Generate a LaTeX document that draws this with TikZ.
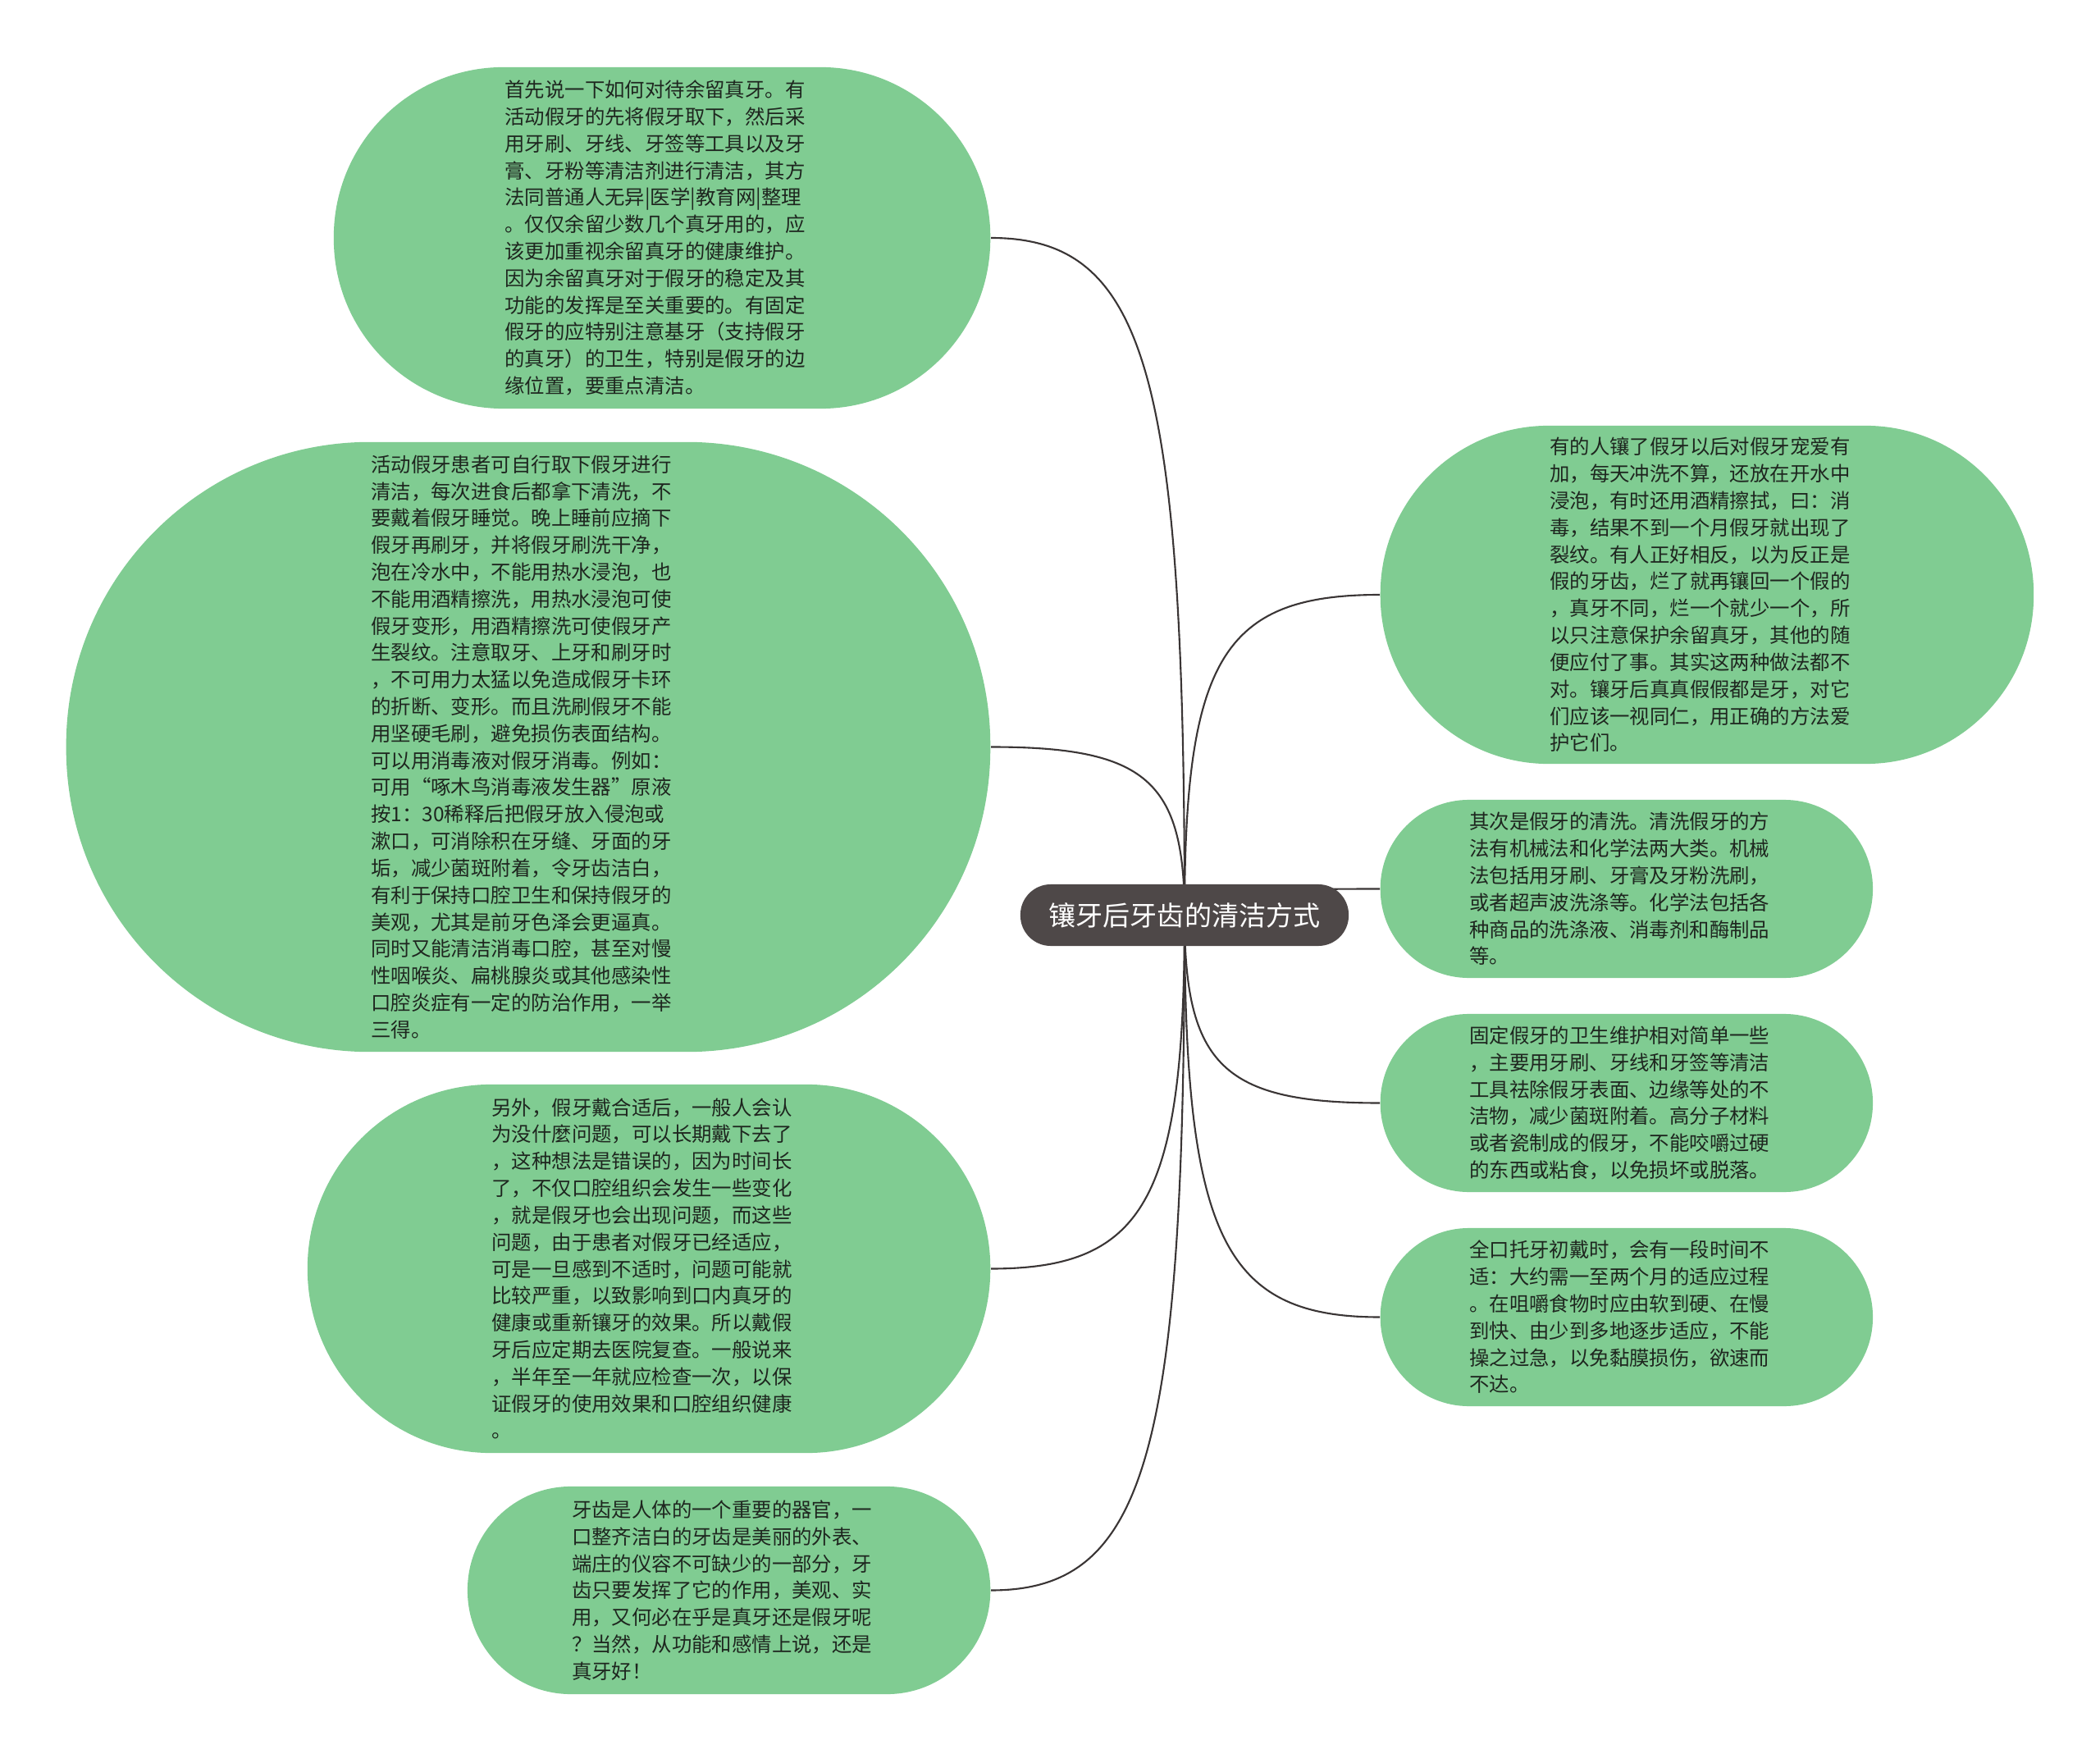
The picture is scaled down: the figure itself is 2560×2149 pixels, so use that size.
\documentclass[tikz,border=0pt]{standalone}
\usepackage{fontspec}
\setmainfont{Noto Sans CJK SC}
\usetikzlibrary{calc,backgrounds}
\definecolor{leafg}{HTML}{80CC92}
\definecolor{rootc}{HTML}{4E4848}
\definecolor{lnk}{HTML}{3A3535}
\definecolor{txt}{HTML}{1E261F}
\tikzset{
  leaf/.style={fill=leafg,text=txt,align=left,text width=3.83cm,inner sep=0pt,font=\fontsize{6.94pt}{9.33pt}\selectfont},
  rootbox/.style={fill=rootc,text=white,rounded corners=0.37cm,minimum width=4cm,minimum height=0.75cm,inner sep=0pt,font=\fontsize{9.4pt}{11pt}\selectfont},
  link/.style={draw=lnk,line width=0.6pt},
}
\begin{document}
\begin{tikzpicture}[x=0.01cm,y=-0.01cm]
\useasboundingbox (0,0) rectangle (2560,2149);
% root
\node[rootbox] (root) at (1444,1115.5) {镶牙后牙齿的清洁方式};
% left side
\node[leaf,anchor=east,minimum width=8cm,minimum height=4.16cm,rounded corners=2.07cm] (n1) at (1208,290) {首先说一下如何对待余留真牙。有\\活动假牙的先将假牙取下，然后采\\用牙刷、牙线、牙签等工具以及牙\\膏、牙粉等清洁剂进行清洁，其方\\法同普通人无异|医学|教育网|整理\\。仅仅余留少数几个真牙用的，应\\该更加重视余留真牙的健康维护。\\因为余留真牙对于假牙的稳定及其\\功能的发挥是至关重要的。有固定\\假牙的应特别注意基牙（支持假牙\\的真牙）的卫生，特别是假牙的边\\缘位置，要重点清洁。};
\node[leaf,anchor=east,minimum width=11.26cm,minimum height=7.43cm,rounded corners=3.70cm] (n2) at (1208,910.5) {活动假牙患者可自行取下假牙进行\\清洁，每次进食后都拿下清洗，不\\要戴着假牙睡觉。晚上睡前应摘下\\假牙再刷牙，并将假牙刷洗干净，\\泡在冷水中，不能用热水浸泡，也\\不能用酒精擦洗，用热水浸泡可使\\假牙变形，用酒精擦洗可使假牙产\\生裂纹。注意取牙、上牙和刷牙时\\，不可用力太猛以免造成假牙卡环\\的折断、变形。而且洗刷假牙不能\\用坚硬毛刷，避免损伤表面结构。\\可以用消毒液对假牙消毒。例如：\\可用“啄木鸟消毒液发生器”原液\\按1：30稀释后把假牙放入侵泡或\\漱口，可消除积在牙缝、牙面的牙\\垢，减少菌斑附着，令牙齿洁白，\\有利于保持口腔卫生和保持假牙的\\美观，尤其是前牙色泽会更逼真。\\同时又能清洁消毒口腔，甚至对慢\\性咽喉炎、扁桃腺炎或其他感染性\\口腔炎症有一定的防治作用，一举\\三得。};
\node[leaf,anchor=east,minimum width=8.32cm,minimum height=4.49cm,rounded corners=2.24cm] (n3) at (1208,1546.5) {另外，假牙戴合适后，一般人会认\\为没什麼问题，可以长期戴下去了\\，这种想法是错误的，因为时间长\\了，不仅口腔组织会发生一些变化\\，就是假牙也会出现问题，而这些\\问题，由于患者对假牙已经适应，\\可是一旦感到不适时，问题可能就\\比较严重，以致影响到口内真牙的\\健康或重新镶牙的效果。所以戴假\\牙后应定期去医院复查。一般说来\\，半年至一年就应检查一次，以保\\证假牙的使用效果和口腔组织健康\\。};
\node[leaf,anchor=east,minimum width=6.37cm,minimum height=2.53cm,rounded corners=1.26cm] (n4) at (1208,1938.5) {牙齿是人体的一个重要的器官，一\\口整齐洁白的牙齿是美丽的外表、\\端庄的仪容不可缺少的一部分，牙\\齿只要发挥了它的作用，美观、实\\用，又何必在乎是真牙还是假牙呢\\？当然，从功能和感情上说，还是\\真牙好！};
% right side
\node[leaf,anchor=west,minimum width=7.96cm,minimum height=4.12cm,rounded corners=2.05cm] (n5) at (1682,725) {有的人镶了假牙以后对假牙宠爱有\\加，每天冲洗不算，还放在开水中\\浸泡，有时还用酒精擦拭，曰：消\\毒，结果不到一个月假牙就出现了\\裂纹。有人正好相反，以为反正是\\假的牙齿，烂了就再镶回一个假的\\，真牙不同，烂一个就少一个，所\\以只注意保护余留真牙，其他的随\\便应付了事。其实这两种做法都不\\对。镶牙后真真假假都是牙，对它\\们应该一视同仁，用正确的方法爱\\护它们。};
\node[leaf,anchor=west,minimum width=6cm,minimum height=2.17cm,rounded corners=1.08cm] (n6) at (1682,1083.5) {其次是假牙的清洗。清洗假牙的方\\法有机械法和化学法两大类。机械\\法包括用牙刷、牙膏及牙粉洗刷，\\或者超声波洗涤等。化学法包括各\\种商品的洗涤液、消毒剂和酶制品\\等。};
\node[leaf,anchor=west,minimum width=6cm,minimum height=2.17cm,rounded corners=1.08cm] (n7) at (1682,1344.5) {固定假牙的卫生维护相对简单一些\\，主要用牙刷、牙线和牙签等清洁\\工具祛除假牙表面、边缘等处的不\\洁物，减少菌斑附着。高分子材料\\或者瓷制成的假牙，不能咬嚼过硬\\的东西或粘食，以免损坏或脱落。};
\node[leaf,anchor=west,minimum width=6cm,minimum height=2.17cm,rounded corners=1.08cm] (n8) at (1682,1605.5) {全口托牙初戴时，会有一段时间不\\适：大约需一至两个月的适应过程\\。在咀嚼食物时应由软到硬、在慢\\到快、由少到多地逐步适应，不能\\操之过急，以免黏膜损伤，欲速而\\不达。};
% links behind everything
\begin{scope}[on background layer]
\fill[white] (0,0) rectangle (2560,2149);
\foreach \n/\a in {n1/east,n2/east,n3/east,n4/east,n5/west,n6/west,n7/west,n8/west}
  \draw[link] (root.center) .. controls ($(root.center)!0.8!(root.center|-\n.\a)$) and ($(\n.\a)!0.8!(root.center|-\n.\a)$) .. (\n.\a);
\end{scope}
\end{tikzpicture}
\end{document}
